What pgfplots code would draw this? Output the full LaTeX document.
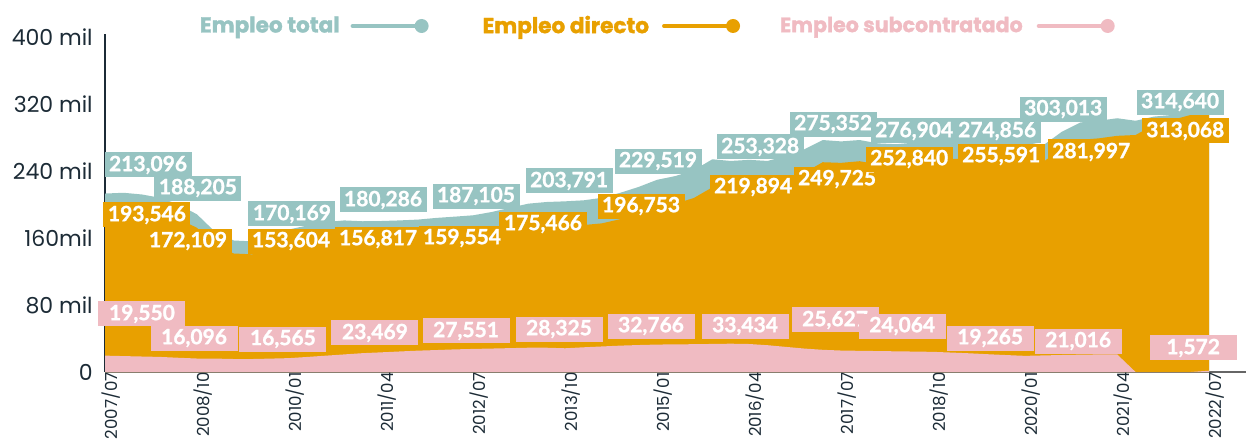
\documentclass[border=0pt]{standalone}
\usepackage{pgfplots}
\pgfplotsset{compat=1.18}
\usepackage{pgfplotstable}
\usepackage{fontspec}
\setmainfont{Poppins}
\newfontfamily\lato{Lato}[BoldFeatures={FakeBold=1.2}]
\newfontfamily\popheavy{Poppins}[BoldFeatures={FakeBold=1.5}]
\definecolor{tealc}{HTML}{97C4C2}
\definecolor{orangec}{HTML}{E8A000}
\definecolor{pinkc}{HTML}{F0BBC2}
\definecolor{ink}{HTML}{1C2B36}

% quarter index (0 = 2007/07), values in thousands
\pgfplotstableread{
q total direct sub
0 213.10 193.55 19.55
1 214.0 195.0 19.0
2 212.0 193.5 18.5
3 208.0 190.0 18.0
4 200.0 183.0 17.0
5 188.21 172.11 16.10
6 167.0 151.0 16.0
7 157.0 141.5 15.5
8 156.0 140.5 15.5
9 163.0 147.0 16.0
10 170.17 153.60 16.57
11 175.0 157.0 18.0
12 179.0 159.5 19.5
13 181.0 160.0 21.0
14 180.0 157.5 22.5
15 180.29 156.82 23.47
16 181.0 156.5 24.5
17 182.0 156.5 25.5
18 184.0 157.8 26.2
19 185.5 158.5 27.0
20 187.11 159.55 27.55
21 191.0 163.0 28.0
22 196.0 167.5 28.5
23 201.0 172.0 29.0
24 203.0 174.0 29.0
25 203.79 175.47 28.33
26 205.0 175.5 29.5
27 208.0 177.5 30.5
28 214.0 182.5 31.5
29 221.0 188.8 32.2
30 229.52 196.75 32.77
31 234.0 201.0 33.0
32 241.0 207.8 33.2
33 254.0 220.5 33.5
34 252.0 218.2 33.8
35 253.33 219.89 33.43
36 252.0 220.0 32.0
37 258.0 228.0 30.0
38 266.0 238.0 28.0
39 277.0 250.5 26.5
40 275.35 249.73 25.63
41 277.0 251.7 25.3
42 273.0 248.0 25.0
43 272.0 247.3 24.7
44 274.0 249.6 24.4
45 276.90 252.84 24.06
46 277.5 254.3 23.2
47 277.0 254.7 22.3
48 276.0 254.8 21.2
49 275.5 255.3 20.2
50 274.86 255.59 19.27
51 271.0 251.2 19.8
52 287.0 266.7 20.3
53 298.0 277.3 20.7
54 300.0 279.0 21.0
55 303.01 282.00 21.02
56 300.0 283.0 0
57 305.0 295.0 0
58 307.0 301.0 0
59 310.0 307.0 0
60 314.64 313.07 1.57
}\emp

\tikzset{lab/.style={inner sep=0pt, minimum width=43.5pt, minimum height=12.5pt, text=white,
  font=\lato\bfseries\fontsize{10.5}{12}\selectfont}}

\begin{document}
\begin{tikzpicture}
\useasboundingbox (0,0) rectangle (623pt,220pt);
\begin{axis}[
  at={(52.5pt,34pt)}, anchor=south west,
  scale only axis, width=570.5pt, height=169pt,
  xmin=0, xmax=62, ymin=0, ymax=403.6,
  axis x line=bottom, axis y line=left,
  x axis line style={-, draw=black!60, line width=0.8pt},
  y axis line style={-, draw=ink, line width=0.8pt},
  xtick={0,5,...,60},
  xticklabels={2007/07,2008/10,2010/01,2011/04,2012/07,2013/10,2015/01,2016/04,2017/07,2018/10,2020/01,2021/04,2022/07},
  xticklabel style={rotate=90, anchor=east, font=\fontsize{8.3}{9}\selectfont, text=ink, inner sep=0pt, yshift=-3pt},
  ytick={0,80,160,240,320,400},
  yticklabels={0,80 mil,160mil,240 mil,320 mil,400 mil},
  yticklabel style={anchor=east, font=\fontsize{11}{13}\selectfont, text=ink, inner sep=0pt, xshift=-6pt},
  major tick length=0pt,
  clip=false,
  legend plot pos=right,
  legend columns=3,
  legend style={at={(axis description cs:0.0833,1.0237)}, anchor=west, draw=none, fill=none,
    inner sep=0pt, outer sep=0pt,
    nodes={inner sep=0pt, font=\popheavy\bfseries\fontsize{10.8}{12}\selectfont},
    /tikz/column 1/.style={column sep=5.5pt},
    /tikz/column 2/.style={column sep=27pt},
    /tikz/column 3/.style={column sep=6.5pt},
    /tikz/column 4/.style={column sep=20pt},
    /tikz/column 5/.style={column sep=7pt}},
]
\addplot[fill=tealc, draw=none,
  legend image code/.code={\draw[tealc, line width=2pt, line cap=round] (0pt,0pt) -- (34.5pt,0pt);
    \fill[tealc] (34.5pt,0pt) circle[radius=3.5pt];}]
  table[x=q, y=total] {\emp} \closedcycle;
\addlegendentry{\textcolor{tealc}{Empleo total}}
\addplot[fill=orangec, draw=none,
  legend image code/.code={\draw[orangec, line width=2pt, line cap=round] (0pt,0pt) -- (34.5pt,0pt);
    \fill[orangec] (34.5pt,0pt) circle[radius=3.5pt];}]
  table[x=q, y=direct] {\emp} \closedcycle;
\addlegendentry{\textcolor{orangec}{Empleo directo}}
\addplot[fill=pinkc, draw=none,
  legend image code/.code={\draw[pinkc, line width=2pt, line cap=round] (0pt,0pt) -- (34.5pt,0pt);
    \fill[pinkc] (34.5pt,0pt) circle[radius=3.5pt];}]
  table[x=q, y=sub] {\emp} \closedcycle;
\addlegendentry{\fontsize{10.3}{12}\selectfont\textcolor{pinkc}{Empleo subcontratado}}

% total labels
\node[lab, fill=tealc] at (axis cs:2.34,247.2) {213,096};
\node[lab, fill=tealc] at (axis cs:5.05,219.7) {188,205};
\node[lab, fill=tealc] at (axis cs:10.16,188.7) {170,169};
\node[lab, fill=tealc] at (axis cs:15.11,205.4) {180,286};
\node[lab, fill=tealc] at (axis cs:20.16,210.1) {187,105};
\node[lab, fill=tealc] at (axis cs:25.22,228.1) {203,791};
\node[lab, fill=tealc] at (axis cs:30.05,251.9) {229,519};
\node[lab, fill=tealc] at (axis cs:35.60,268.7) {253,328};
\node[lab, fill=tealc] at (axis cs:39.57,296.1) {275,352};
\node[lab, fill=tealc] at (axis cs:43.97,287.8) {276,904};
\node[lab, fill=tealc] at (axis cs:48.48,287.8) {274,856};
\node[lab, fill=tealc] at (axis cs:52.07,314.0) {303,013};
\node[lab, fill=tealc] at (axis cs:58.42,322.4) {314,640};
% direct labels
\node[lab, fill=orangec] at (axis cs:2.28,187.5) {193,546};
\node[lab, fill=orangec] at (axis cs:4.51,156.4) {172,109};
\node[lab, fill=orangec] at (axis cs:10.11,156.4) {153,604};
\node[lab, fill=orangec] at (axis cs:14.84,158.8) {156,817};
\node[lab, fill=orangec] at (axis cs:19.40,160.0) {159,554};
\node[lab, fill=orangec] at (axis cs:23.80,176.7) {175,466};
\node[lab, fill=orangec] at (axis cs:29.13,198.2) {196,753};
\node[lab, fill=orangec] at (axis cs:35.22,220.9) {219,894};
\node[lab, fill=orangec] at (axis cs:39.78,230.4) {249,725};
\node[lab, fill=orangec] at (axis cs:43.70,254.3) {252,840};
\node[lab, fill=orangec] at (axis cs:48.70,257.9) {255,591};
\node[lab, fill=orangec] at (axis cs:53.59,262.7) {281,997};
\node[lab, fill=orangec] at (axis cs:58.70,287.8) {313,068};
% subcontracted labels
\node[lab, fill=pinkc] at (axis cs:2.01,69.3) {19,550};
\node[lab, fill=pinkc] at (axis cs:4.84,40.6) {16,096};
\node[lab, fill=pinkc] at (axis cs:9.67,39.4) {16,565};
\node[lab, fill=pinkc] at (axis cs:14.67,46.6) {23,469};
\node[lab, fill=pinkc] at (axis cs:19.62,49.0) {27,551};
\node[lab, fill=pinkc] at (axis cs:24.67,51.3) {28,325};
\node[lab, fill=pinkc] at (axis cs:29.67,54.9) {32,766};
\node[lab, fill=pinkc] at (axis cs:34.78,54.9) {33,434};
\node[lab, fill=pinkc] at (axis cs:39.67,62.1) {25,627};
\node[lab, fill=pinkc] at (axis cs:43.32,54.9) {24,064};
\node[lab, fill=pinkc] at (axis cs:48.10,40.6) {19,265};
\node[lab, fill=pinkc] at (axis cs:52.88,37.0) {21,016};
\node[lab, fill=pinkc] at (axis cs:59.13,28.7) {1,572};
\end{axis}
\end{tikzpicture}
\end{document}
